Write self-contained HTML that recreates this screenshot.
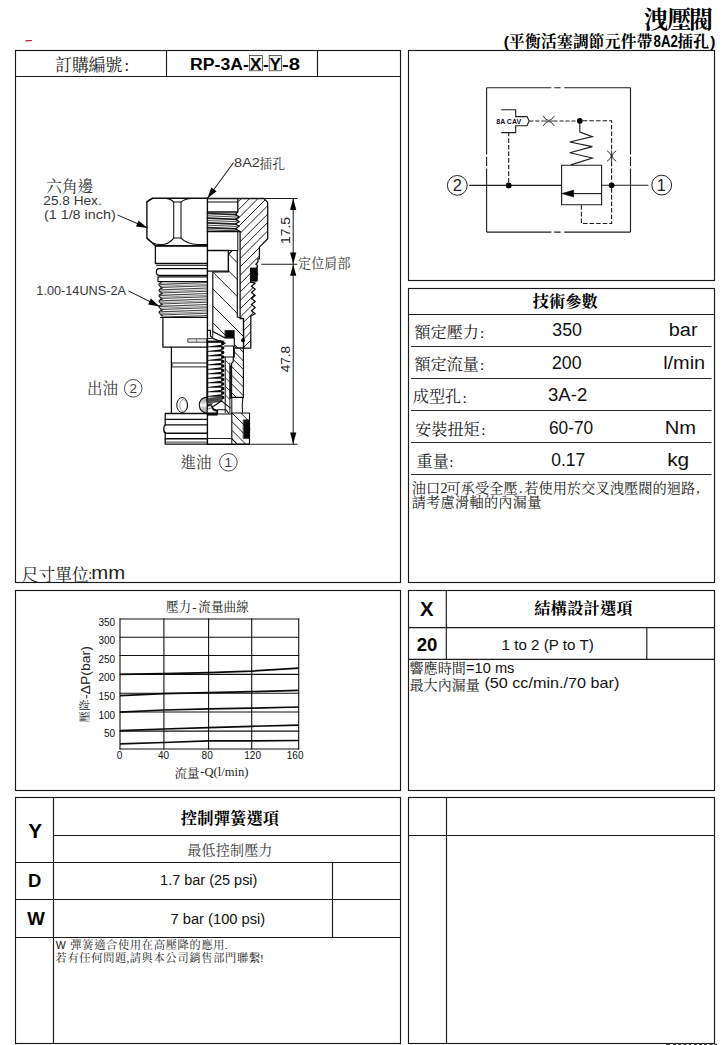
<!DOCTYPE html>
<html lang="zh-Hant"><head><meta charset="utf-8"><title>洩壓閥 RP-3A-X-Y-8</title>
<style>
html,body{margin:0;padding:0;background:#fff;}
body{width:727px;height:1045px;overflow:hidden;position:relative;font-family:"Liberation Sans",sans-serif;}
#pg{position:absolute;left:0;top:0;width:727px;height:1045px;overflow:hidden;background:#fff;}
#pg svg.main{position:absolute;left:0;top:0;}
.c{position:absolute;white-space:pre;color:transparent;line-height:1;overflow:hidden;height:1em;font-family:"Liberation Serif","Noto Serif CJK SC",serif;}
.cj{font-family:"Liberation Serif","Noto Serif CJK SC",serif;}
</style></head>
<body><div id="pg">
<svg class="main" width="727" height="1045" viewBox="0 0 727 1045">
<rect x="15.5" y="50.5" width="385.0" height="532.0" fill="none" stroke="#1a1a1a" stroke-width="1.15"/>
<line x1="15.5" y1="76.5" x2="400.5" y2="76.5" stroke="#1a1a1a" stroke-width="1.15"/>
<line x1="166.5" y1="50.5" x2="166.5" y2="76.5" stroke="#1a1a1a" stroke-width="1.15"/>
<line x1="317.5" y1="50.5" x2="317.5" y2="76.5" stroke="#1a1a1a" stroke-width="1.15"/>
<path d="M25.5 40.3L32.1 39.9V40.7L27.2 41.6L25.6 41.4Z" fill="#dd0008"/>
<rect x="408.5" y="50.5" width="306.0" height="230.0" fill="none" stroke="#1a1a1a" stroke-width="1.15"/>
<rect x="408.5" y="288.5" width="306.0" height="294.0" fill="none" stroke="#1a1a1a" stroke-width="1.15"/>
<line x1="408.5" y1="314.5" x2="714.5" y2="314.5" stroke="#1a1a1a" stroke-width="1.15"/>
<line x1="411" y1="346.5" x2="711.5" y2="346.5" stroke="#2a2a2a" stroke-width="1.05"/>
<line x1="411" y1="378.5" x2="711.5" y2="378.5" stroke="#2a2a2a" stroke-width="1.05"/>
<line x1="411" y1="410.5" x2="711.5" y2="410.5" stroke="#2a2a2a" stroke-width="1.05"/>
<line x1="411" y1="442.5" x2="711.5" y2="442.5" stroke="#2a2a2a" stroke-width="1.05"/>
<line x1="411" y1="474.5" x2="711.5" y2="474.5" stroke="#2a2a2a" stroke-width="1.05"/>
<rect x="15.5" y="590.5" width="385.0" height="200.0" fill="none" stroke="#1a1a1a" stroke-width="1.15"/>
<rect x="408.5" y="590.5" width="306.0" height="200.0" fill="none" stroke="#1a1a1a" stroke-width="1.15"/>
<line x1="446.3" y1="590.5" x2="446.3" y2="659.5" stroke="#1a1a1a" stroke-width="1.15"/>
<line x1="408.5" y1="627.6" x2="714.5" y2="627.6" stroke="#1a1a1a" stroke-width="1.15"/>
<line x1="408.5" y1="659.4" x2="714.5" y2="659.4" stroke="#1a1a1a" stroke-width="1.15"/>
<line x1="646.8" y1="627.6" x2="646.8" y2="659.4" stroke="#1a1a1a" stroke-width="1.15"/>
<rect x="15.5" y="797.5" width="385.0" height="246.0" fill="none" stroke="#1a1a1a" stroke-width="1.15"/>
<line x1="53.5" y1="797.5" x2="53.5" y2="1043.5" stroke="#1a1a1a" stroke-width="1.15"/>
<line x1="53.5" y1="835.5" x2="400.5" y2="835.5" stroke="#1a1a1a" stroke-width="1.15"/>
<line x1="15.5" y1="862.5" x2="400.5" y2="862.5" stroke="#1a1a1a" stroke-width="1.15"/>
<line x1="15.5" y1="899.5" x2="400.5" y2="899.5" stroke="#1a1a1a" stroke-width="1.15"/>
<line x1="15.5" y1="937.5" x2="400.5" y2="937.5" stroke="#1a1a1a" stroke-width="1.15"/>
<line x1="332.5" y1="862.5" x2="332.5" y2="937.5" stroke="#1a1a1a" stroke-width="1.15"/>
<rect x="408.5" y="797.5" width="306.0" height="246.0" fill="none" stroke="#1a1a1a" stroke-width="1.15"/>
<line x1="446.5" y1="797.5" x2="446.5" y2="1043.5" stroke="#1a1a1a" stroke-width="1.15"/>
<line x1="408.5" y1="835.5" x2="714.5" y2="835.5" stroke="#1a1a1a" stroke-width="1.15"/>
<text class="cj" x="643.96 667.35 689.06" y="27.72" font-size="24" font-weight="bold" fill="#000">洩壓閥</text>
<text class="cj" x="509.09 525.04 540.99 556.94 572.89 588.84 604.79 620.74 636.69" y="46.87" font-size="15.7" font-weight="bold" fill="#000">平衡活塞調節元件帶</text>
<text class="cj" x="677.59 693.29" y="46.87" font-size="15.7" font-weight="bold" fill="#000">插孔</text>
<text class="cj" x="54.93 71.73 88.53 105.33" y="70.94" font-size="17.2" fill="#1c1c1c">訂購編號</text>
<rect x="249.6" y="55.4" width="12.8" height="15.4" fill="#f6f6f6" stroke="#2a2a2a" stroke-width="0.7"/>
<rect x="269.2" y="55.4" width="12.3" height="15.4" fill="#f6f6f6" stroke="#2a2a2a" stroke-width="0.7"/>
<text class="cj" x="46.20 61.90 77.60" y="191.93" font-size="15.6" fill="#383838">六角邊</text>
<text class="cj" x="259.52 272.27" y="167.86" font-size="12.8" fill="#383838">插孔</text>
<text class="cj" x="298.11 311.21 324.31 337.41" y="268.18" font-size="13.1" fill="#383838">定位肩部</text>
<text class="cj" x="87.00 102.40" y="394.19" font-size="15.5" fill="#383838">出油</text>
<text class="cj" x="180.50 195.90" y="468.19" font-size="15.5" fill="#383838">進油</text>
<circle cx="133.2" cy="388.3" r="8.8" fill="none" stroke="#383838" stroke-width="0.9"/>
<circle cx="228.4" cy="462.3" r="8.8" fill="none" stroke="#383838" stroke-width="0.9"/>
<text class="cj" x="21.85 38.60 55.35 72.10" y="580.55" font-size="16.7" fill="#1c1c1c">尺寸單位</text>
<text class="cj" x="532.67 548.92 565.17 581.42" y="307.16" font-size="16.2" font-weight="bold" fill="#000">技術參數</text>
<text class="cj" x="414.48 430.58 446.68 462.78" y="337.92" font-size="16.1" fill="#1c1c1c">額定壓力</text>
<text class="cj" x="414.48 430.58 446.68 462.78" y="370.12" font-size="16.1" fill="#1c1c1c">額定流量</text>
<text class="cj" x="412.78 428.88 444.98" y="402.32" font-size="16.1" fill="#1c1c1c">成型孔</text>
<text class="cj" x="415.18 431.28 447.38 463.48" y="434.62" font-size="16.1" fill="#1c1c1c">安裝扭矩</text>
<text class="cj" x="416.58 432.68" y="466.72" font-size="16.1" fill="#1c1c1c">重量</text>
<text class="cj" x="411.66 425.91" y="492.60" font-size="14.2" fill="#1c1c1c">油口</text>
<text class="cj" x="446.62 460.87 475.12 489.37 503.62" y="492.60" font-size="14.2" fill="#1c1c1c">可承受全壓</text>
<text class="cj" x="524.33 538.58 552.83 567.08 581.33 595.58 609.83 624.08 638.33 652.58 666.83 681.08" y="492.60" font-size="14.2" fill="#1c1c1c">若使用於交叉洩壓閥的迴路</text>
<text class="cj" x="411.66 426.11 440.56 455.01 469.46 483.91 498.36 512.81 527.26" y="506.90" font-size="14.2" fill="#1c1c1c">請考慮滑軸的內漏量</text>
<text class="cj" x="534.37 550.77 567.17 583.57 599.97 616.37" y="614.39" font-size="16.3" font-weight="bold" fill="#000">結構設計選項</text>
<text class="cj" x="409.47 423.57 437.67 451.77" y="673.46" font-size="14.1" fill="#1c1c1c">響應時間</text>
<text class="cj" x="409.47 423.57 437.67 451.77 465.87" y="689.76" font-size="14.1" fill="#1c1c1c">最大內漏量</text>
<text class="cj" x="180.87 197.27 213.67 230.07 246.47 262.87" y="823.99" font-size="16.3" font-weight="bold" fill="#000">控制彈簧選項</text>
<text class="cj" x="187.37 201.57 215.77 229.97 244.17 258.37" y="854.76" font-size="14.1" fill="#3a3a3a">最低控制壓力</text>
<text class="cj" x="70.30 82.22 94.14 106.06 117.98 129.90 141.82 153.74 165.66 177.58 189.50 201.42 213.34" y="948.66" font-size="11.2" fill="#1c1c1c">彈簧適合使用在高壓降的應用</text>
<text class="cj" x="55.50 67.42 79.34 91.26 103.18 115.10" y="961.76" font-size="11.2" fill="#1c1c1c">若有任何問題</text>
<text class="cj" x="129.70 141.62 153.54 165.46 177.38 189.30 201.22 213.14 225.06 236.98 248.90" y="961.76" font-size="11.2" fill="#1c1c1c">請與本公司銷售部門聯繫</text>
<path d="M666 1045v-1.2h4v1.2zm7 0v-1.4h3v1.4zm5 0v-1.4h3v1.4zm5.5 0v-1.4h3v1.4zm5.5 0v-1.2h2v1.2zm5 0v-1.4h3v1.4zm5 0v-1.4h3v1.4zm5 0v-1.4h3v1.4zm5.5 0v-1.3h3v1.3zm5 0v-1.3h2.5v1.3z" fill="#444"/>
<line x1="120.0" y1="618.5" x2="120.0" y2="749.5" stroke="#111" stroke-width="1.1"/>
<line x1="163.9" y1="618.5" x2="163.9" y2="749.5" stroke="#111" stroke-width="1.1"/>
<line x1="208.6" y1="618.5" x2="208.6" y2="749.5" stroke="#111" stroke-width="1.1"/>
<line x1="251.7" y1="618.5" x2="251.7" y2="749.5" stroke="#111" stroke-width="1.1"/>
<line x1="298.7" y1="618.5" x2="298.7" y2="749.5" stroke="#111" stroke-width="1.1"/>
<line x1="119.5" y1="619.0" x2="299.2" y2="619.0" stroke="#111" stroke-width="1.1"/>
<line x1="119.5" y1="637.2" x2="299.2" y2="637.2" stroke="#111" stroke-width="1.1"/>
<line x1="119.5" y1="655.5" x2="299.2" y2="655.5" stroke="#111" stroke-width="1.1"/>
<line x1="119.5" y1="674.4" x2="299.2" y2="674.4" stroke="#111" stroke-width="1.1"/>
<line x1="119.5" y1="693.2" x2="299.2" y2="693.2" stroke="#111" stroke-width="1.1"/>
<line x1="119.5" y1="712.0" x2="299.2" y2="712.0" stroke="#111" stroke-width="1.1"/>
<line x1="119.5" y1="731.1" x2="299.2" y2="731.1" stroke="#111" stroke-width="1.1"/>
<line x1="119.5" y1="749.0" x2="299.2" y2="749.0" stroke="#111" stroke-width="1.1"/>
<polyline points="120.0,674.3 163.9,673.6 208.6,672.6 251.7,671.1 298.7,668.2" fill="none" stroke="#0a0a0a" stroke-width="1.7" stroke-linejoin="round"/>
<polyline points="120.0,695.6 163.9,693.6 208.6,692.6 251.7,691.6 298.7,690.4" fill="none" stroke="#0a0a0a" stroke-width="1.7" stroke-linejoin="round"/>
<polyline points="120.0,712.1 163.9,710.0 208.6,708.9 251.7,708.1 298.7,707.0" fill="none" stroke="#0a0a0a" stroke-width="1.7" stroke-linejoin="round"/>
<polyline points="120.0,730.7 163.9,729.0 208.6,727.6 251.7,726.3 298.7,725.1" fill="none" stroke="#0a0a0a" stroke-width="1.7" stroke-linejoin="round"/>
<polyline points="120.0,743.9 163.9,742.5 208.6,740.8 251.7,740.8 298.7,740.5" fill="none" stroke="#0a0a0a" stroke-width="1.7" stroke-linejoin="round"/>
<text class="cj" x="165.93 178.53" y="610.99" font-size="12.6" fill="#222">壓力</text>
<text class="cj" x="198.33 210.93 223.53 236.13" y="610.99" font-size="12.6" fill="#222">流量曲線</text>
<text class="cj" x="174.54 187.04" y="777.75" font-size="12.5" fill="#222">流量</text>
<g transform="translate(0 0)">
<g transform="translate(90.0 721.9) rotate(-90)">
<text class="cj" x="-0.51 10.84" y="-1.27" font-size="11.4" fill="#222">壓降</text>
</g>
</g>
<g><path d="M486.6 87.7H551.3M554.2 87.7H560.6M564.2 87.7H630.5" fill="none" stroke="#1e1e1e" stroke-width="1.12" stroke-linecap="butt"/><path d="M486.6 232.1H551.3M554.2 232.1H560.6M564.2 232.1H630.5" fill="none" stroke="#1e1e1e" stroke-width="1.12" stroke-linecap="butt"/><path d="M486.6 87.7V154.4M486.6 156.8V166M486.6 168.5V232.1" fill="none" stroke="#1e1e1e" stroke-width="1.12" stroke-linecap="butt"/><path d="M630.5 87.7V154.4M630.5 156.8V166M630.5 168.5V232.1" fill="none" stroke="#1e1e1e" stroke-width="1.12" stroke-linecap="butt"/><circle cx="457.3" cy="185.4" r="9.9" fill="#fff" stroke="#1e1e1e" stroke-width="1"/><circle cx="661.7" cy="185.1" r="9.9" fill="#fff" stroke="#1e1e1e" stroke-width="1"/><path d="M469.3 185.4H561.6" fill="none" stroke="#1e1e1e" stroke-width="1.12" stroke-linecap="butt"/><path d="M601.6 185.3H648.4" fill="none" stroke="#1e1e1e" stroke-width="1.12" stroke-linecap="butt"/><path d="M561.6 165.3H601.6V204.8H561.6Z" fill="none" stroke="#1e1e1e" stroke-width="1.12" stroke-linecap="butt"/><path d="M573.5 193.6H601.6" fill="none" stroke="#1e1e1e" stroke-width="1.12" stroke-linecap="butt"/><path d="M561.9 193.6L573.7 190.1V197.1Z" fill="#000" stroke="#000" stroke-width="0.5" stroke-linecap="butt"/><path d="M579.8 120.8V132L592.4 136.6L569.8 142L592.4 146.6L569.8 152.8L592.4 158L570.8 164.9" fill="none" stroke="#1e1e1e" stroke-width="1.12" stroke-linecap="butt"/><circle cx="508.7" cy="185.4" r="2.9" fill="#000"/><circle cx="579.8" cy="120.8" r="2.9" fill="#000"/><circle cx="611.6" cy="185.3" r="2.9" fill="#000"/><path d="M508.7 182.5V133" fill="none" stroke="#1e1e1e" stroke-width="1.12" stroke-linecap="butt" stroke-dasharray="4.6 2"/><path d="M529.4 121H543.5" fill="none" stroke="#1e1e1e" stroke-width="1.12" stroke-linecap="butt" stroke-dasharray="4 2"/><path d="M553.5 121H577" fill="none" stroke="#1e1e1e" stroke-width="1.12" stroke-linecap="butt" stroke-dasharray="4 2"/><path d="M582.7 120.8H611.6V150.5" fill="none" stroke="#1e1e1e" stroke-width="1.12" stroke-linecap="butt" stroke-dasharray="4.6 2"/><path d="M611.6 162V182.4" fill="none" stroke="#1e1e1e" stroke-width="1.12" stroke-linecap="butt" stroke-dasharray="4.6 2"/><path d="M611.6 188.2V223.5H581.4V205.3" fill="none" stroke="#1e1e1e" stroke-width="1.12" stroke-linecap="butt" stroke-dasharray="4.6 2"/><path d="M543.1 115.8Q548.7 125.2 554.4 115.8M543.1 126.1Q548.7 116.7 554.4 126.1" fill="none" stroke="#1e1e1e" stroke-width="0.9" stroke-linecap="butt"/><path d="M543.5 121H554" fill="none" stroke="#1e1e1e" stroke-width="0.9" stroke-linecap="butt" stroke-dasharray="4 2"/><path d="M607 150.7Q615.4 156 607 161.3M616.3 150.7Q607.9 156 616.3 161.3" fill="none" stroke="#1e1e1e" stroke-width="0.9" stroke-linecap="butt"/><path d="M611.6 150.5V162" fill="none" stroke="#1e1e1e" stroke-width="0.9" stroke-linecap="butt"/><path d="M501.2 109.8H515.7V116.6H527L529.2 121L527 125.8H515.7V132.6H501.2" fill="none" stroke="#1e1e1e" stroke-width="1.12" stroke-linecap="butt"/></g>
<g><path d="M152.4 198.3H207.4" fill="none" stroke="#0c0c0c" stroke-width="1.49" stroke-linejoin="round" stroke-linecap="round"/><path d="M152.4 198.3L146.9 201.9V238.1L155.1 245.6H207.4" fill="none" stroke="#0c0c0c" stroke-width="1.38" stroke-linejoin="round" stroke-linecap="round"/><path d="M173.7 202.1V238.1M181 202.1V238.1" fill="none" stroke="#0c0c0c" stroke-width="1.03" stroke-linejoin="round" stroke-linecap="round"/><path d="M146.9 202.2Q149.5 198.6 153.5 198.5H166.5Q171 198.8 173.7 202.1H181Q184.5 198.9 192 198.6" fill="none" stroke="#0c0c0c" stroke-width="1.03" stroke-linejoin="round" stroke-linecap="round"/><path d="M146.9 238.1Q152 244.6 160.5 244.6Q169 244.6 173.7 238.1H181Q187 244.2 198 244.6H207.4" fill="none" stroke="#0c0c0c" stroke-width="1.03" stroke-linejoin="round" stroke-linecap="round"/><path d="M155.4 246.1V263.5H207.4" fill="none" stroke="#0c0c0c" stroke-width="1.26" stroke-linejoin="round" stroke-linecap="round"/><path d="M155.4 246.1H207.4" fill="none" stroke="#0c0c0c" stroke-width="1.15" stroke-linejoin="round" stroke-linecap="round"/><path d="M156.5 265.4H207.4" fill="none" stroke="#0c0c0c" stroke-width="0.92" stroke-linejoin="round" stroke-linecap="round"/><path d="M207.4 268.6H159Q156.3 268.8 156.3 272T159 275.4H207.4" fill="none" stroke="#0c0c0c" stroke-width="1.15" stroke-linejoin="round" stroke-linecap="round"/><path d="M207.4 276.9H158V281.6H207.4" fill="none" stroke="#0c0c0c" stroke-width="1.15" stroke-linejoin="round" stroke-linecap="round"/><path d="M161.4 282.4Q157.6 284.1 159.6 285.8L162.4 287.9Q157.6 289.6 159.6 291.3L162.4 293.4Q157.6 295.1 159.6 296.8L162.4 298.9Q157.6 300.6 159.6 302.4L162.4 304.4Q157.6 306.1 159.6 307.9L162.4 310.0Q157.6 311.6 159.6 313.4L162.4 315.5" fill="none" stroke="#0c0c0c" stroke-width="1.15" stroke-linejoin="round" stroke-linecap="round"/><path d="M160.6 284.4L207.4 282.5" fill="none" stroke="#444" stroke-width="1.15" stroke-linejoin="round" stroke-linecap="round"/><path d="M160.6 286.2L207.4 284.3" fill="none" stroke="#444" stroke-width="0.57" stroke-linejoin="round" stroke-linecap="round"/><path d="M160.6 287.6L207.4 285.7" fill="none" stroke="#444" stroke-width="1.03" stroke-linejoin="round" stroke-linecap="round"/><path d="M160.6 289.9L207.4 288.0" fill="none" stroke="#444" stroke-width="1.15" stroke-linejoin="round" stroke-linecap="round"/><path d="M160.6 291.7L207.4 289.8" fill="none" stroke="#444" stroke-width="0.57" stroke-linejoin="round" stroke-linecap="round"/><path d="M160.6 293.1L207.4 291.2" fill="none" stroke="#444" stroke-width="1.03" stroke-linejoin="round" stroke-linecap="round"/><path d="M160.6 295.4L207.4 293.5" fill="none" stroke="#444" stroke-width="1.15" stroke-linejoin="round" stroke-linecap="round"/><path d="M160.6 297.2L207.4 295.3" fill="none" stroke="#444" stroke-width="0.57" stroke-linejoin="round" stroke-linecap="round"/><path d="M160.6 298.6L207.4 296.7" fill="none" stroke="#444" stroke-width="1.03" stroke-linejoin="round" stroke-linecap="round"/><path d="M160.6 300.9L207.4 299.0" fill="none" stroke="#444" stroke-width="1.15" stroke-linejoin="round" stroke-linecap="round"/><path d="M160.6 302.7L207.4 300.8" fill="none" stroke="#444" stroke-width="0.57" stroke-linejoin="round" stroke-linecap="round"/><path d="M160.6 304.1L207.4 302.2" fill="none" stroke="#444" stroke-width="1.03" stroke-linejoin="round" stroke-linecap="round"/><path d="M160.6 306.4L207.4 304.5" fill="none" stroke="#444" stroke-width="1.15" stroke-linejoin="round" stroke-linecap="round"/><path d="M160.6 308.2L207.4 306.3" fill="none" stroke="#444" stroke-width="0.57" stroke-linejoin="round" stroke-linecap="round"/><path d="M160.6 309.6L207.4 307.7" fill="none" stroke="#444" stroke-width="1.03" stroke-linejoin="round" stroke-linecap="round"/><path d="M160.6 311.9L207.4 310.0" fill="none" stroke="#444" stroke-width="1.15" stroke-linejoin="round" stroke-linecap="round"/><path d="M160.6 313.7L207.4 311.8" fill="none" stroke="#444" stroke-width="0.57" stroke-linejoin="round" stroke-linecap="round"/><path d="M160.6 315.1L207.4 313.2" fill="none" stroke="#444" stroke-width="1.03" stroke-linejoin="round" stroke-linecap="round"/><path d="M160.6 317.4L207.4 315.5" fill="none" stroke="#444" stroke-width="1.15" stroke-linejoin="round" stroke-linecap="round"/><path d="M161.5 317.4H207.4" fill="none" stroke="#0c0c0c" stroke-width="1.38" stroke-linejoin="round" stroke-linecap="round"/><path d="M162.9 317.4V347.2H207.4" fill="none" stroke="#0c0c0c" stroke-width="1.26" stroke-linejoin="round" stroke-linecap="round"/><path d="M171.4 347.2V413.4" fill="none" stroke="#0c0c0c" stroke-width="1.26" stroke-linejoin="round" stroke-linecap="round"/><path d="M171.4 363.0H207.4M171.4 366.9H207.4" fill="none" stroke="#0c0c0c" stroke-width="0.92" stroke-linejoin="round" stroke-linecap="round"/><path d="M171.4 363.0L172.4 365L171.4 366.9" fill="none" stroke="#0c0c0c" stroke-width="0.80" stroke-linejoin="round" stroke-linecap="round"/><path d="M188.2 338.8H206.8V342.2H188.2Z" fill="#e9e9e9" stroke="#333" stroke-width="0.92" stroke-linejoin="round" stroke-linecap="round"/><path d="M196.5 339.2V342" fill="none" stroke="#555" stroke-width="0.69" stroke-linejoin="round" stroke-linecap="round"/><ellipse cx="182.2" cy="405" rx="5.4" ry="7.5" fill="none" stroke="#0c0c0c" stroke-width="1"/><ellipse cx="183.4" cy="405.4" rx="3.6" ry="5.8" fill="none" stroke="#666" stroke-width="0.6"/><linearGradient id="hg" x1="0" y1="0" x2="0" y2="1"><stop offset="0" stop-color="#8a8a8a"/><stop offset="0.38" stop-color="#d8d8d8"/><stop offset="0.5" stop-color="#fff"/><stop offset="0.62" stop-color="#d0d0d0"/><stop offset="1" stop-color="#9a9a9a"/></linearGradient><path d="M207.4 397.0Q199.4 397.6 199.3 405.1Q199.5 412.7 207.4 413.3Z" fill="url(#hg)" stroke="#0c0c0c" stroke-width="1.03" stroke-linejoin="round" stroke-linecap="round"/><path d="M165.2 413.5H207.4M165.2 413.5V424.9M165.2 433.2V444.2H207.4" fill="none" stroke="#0c0c0c" stroke-width="1.26" stroke-linejoin="round" stroke-linecap="round"/><path d="M165.2 419.4H207.4" fill="none" stroke="#0c0c0c" stroke-width="1.38" stroke-linejoin="round" stroke-linecap="round"/><path d="M207.4 424.9H166Q163.8 425.2 163.8 429T166 433.2H207.4" fill="none" stroke="#0c0c0c" stroke-width="1.38" stroke-linejoin="round" stroke-linecap="round"/><path d="M165.2 438.7H207.4" fill="none" stroke="#0c0c0c" stroke-width="1.38" stroke-linejoin="round" stroke-linecap="round"/><path d="M165.2 442.1H207.4" fill="none" stroke="#0c0c0c" stroke-width="0.80" stroke-linejoin="round" stroke-linecap="round"/><path d="M207.4 198.3V444.2" fill="none" stroke="#0c0c0c" stroke-width="1.38" stroke-linejoin="round" stroke-linecap="round"/><clipPath id="hc1"><path d="M237.8 198.5L264.0 198.5L267.7 202.4L267.7 238.8L259.4 247.1L259.4 258.8L257.9 258.8L257.9 262.0L255.9 264.2L257.3 265.2L257.3 268.3L250.6 268.3L250.6 282.2L255.2 283.2L251.4 286.2L255.2 289.3L251.4 292.4L255.2 295.4L251.4 298.5L255.2 301.5L251.4 304.6L255.2 307.6L251.4 310.7L255.2 313.7L250.8 316.0L250.8 348.1L243.6 348.1L243.6 318.6L240.1 318.6L240.1 231.6L239.2 231.0L235.2 228.7L239.2 226.3L235.2 224.0L239.2 221.6L235.2 219.3L239.2 216.9L235.2 214.6L237.8 212.0L237.8 198.5Z"/></clipPath><path d="M74.9 348.1L224.5 198.5M83.3 348.1L232.9 198.5M91.7 348.1L241.3 198.5M100.1 348.1L249.7 198.5M108.5 348.1L258.1 198.5M116.9 348.1L266.5 198.5M125.3 348.1L274.9 198.5M133.7 348.1L283.3 198.5M142.1 348.1L291.7 198.5M150.5 348.1L300.1 198.5M158.9 348.1L308.5 198.5M167.3 348.1L316.9 198.5M175.7 348.1L325.3 198.5M184.1 348.1L333.7 198.5M192.5 348.1L342.1 198.5M200.9 348.1L350.5 198.5M209.3 348.1L358.9 198.5M217.7 348.1L367.3 198.5M226.1 348.1L375.7 198.5M234.5 348.1L384.1 198.5M242.9 348.1L392.5 198.5M251.3 348.1L400.9 198.5M259.7 348.1L409.3 198.5M268.1 348.1L417.7 198.5" clip-path="url(#hc1)" stroke="#161616" stroke-width="0.95" fill="none"/><path d="M237.8 198.5L264.0 198.5L267.7 202.4L267.7 238.8L259.4 247.1L259.4 258.8L257.9 258.8L257.9 262.0L255.9 264.2L257.3 265.2L257.3 268.3L250.6 268.3L250.6 282.2L255.2 283.2L251.4 286.2L255.2 289.3L251.4 292.4L255.2 295.4L251.4 298.5L255.2 301.5L251.4 304.6L255.2 307.6L251.4 310.7L255.2 313.7L250.8 316.0L250.8 348.1L243.6 348.1L243.6 318.6L240.1 318.6L240.1 231.6L239.2 231.0L235.2 228.7L239.2 226.3L235.2 224.0L239.2 221.6L235.2 219.3L239.2 216.9L235.2 214.6L237.8 212.0L237.8 198.5Z" fill="none" stroke="#0c0c0c" stroke-width="1.26" stroke-linejoin="round" stroke-linecap="round"/><path d="M207.4 198.5H237.8" fill="none" stroke="#0c0c0c" stroke-width="1.49" stroke-linejoin="round" stroke-linecap="round"/><path d="M207.4 212H237.8" fill="none" stroke="#0c0c0c" stroke-width="1.26" stroke-linejoin="round" stroke-linecap="round"/><path d="M207.4 202H237.8" fill="none" stroke="#0c0c0c" stroke-width="1.03" stroke-linejoin="round" stroke-linecap="round"/><path d="M207.4 213.5L236.4 214.7" fill="none" stroke="#1e1e1e" stroke-width="1.72" stroke-linejoin="round" stroke-linecap="round"/><path d="M207.4 215.8L236.4 217.0" fill="none" stroke="#1e1e1e" stroke-width="0.80" stroke-linejoin="round" stroke-linecap="round"/><path d="M207.4 218.2L236.4 219.4" fill="none" stroke="#1e1e1e" stroke-width="1.72" stroke-linejoin="round" stroke-linecap="round"/><path d="M207.4 220.5L236.4 221.7" fill="none" stroke="#1e1e1e" stroke-width="0.80" stroke-linejoin="round" stroke-linecap="round"/><path d="M207.4 222.9L236.4 224.1" fill="none" stroke="#1e1e1e" stroke-width="1.72" stroke-linejoin="round" stroke-linecap="round"/><path d="M207.4 225.2L236.4 226.4" fill="none" stroke="#1e1e1e" stroke-width="0.80" stroke-linejoin="round" stroke-linecap="round"/><path d="M207.4 227.6L236.4 228.8" fill="none" stroke="#1e1e1e" stroke-width="1.72" stroke-linejoin="round" stroke-linecap="round"/><path d="M207.4 229.7L236.4 230.9" fill="none" stroke="#1e1e1e" stroke-width="0.80" stroke-linejoin="round" stroke-linecap="round"/><path d="M207.4 231.5H240.1" fill="none" stroke="#0c0c0c" stroke-width="1.26" stroke-linejoin="round" stroke-linecap="round"/><path d="M237.8 231.5V250.5" fill="none" stroke="#0c0c0c" stroke-width="1.03" stroke-linejoin="round" stroke-linecap="round"/><path d="M207.4 250.5H228.4V271.2H207.4" fill="none" stroke="#0c0c0c" stroke-width="1.26" stroke-linejoin="round" stroke-linecap="round"/><path d="M228.4 250.5H237.4" fill="none" stroke="#0c0c0c" stroke-width="1.03" stroke-linejoin="round" stroke-linecap="round"/><clipPath id="hc2"><path d="M212.8 272.0L228.4 272.0L228.4 254.4L232.2 250.5L237.3 250.5L237.3 317.0L243.4 318.6L243.4 348.0L236.2 348.0L234.3 346.4L234.3 338.0L225.2 338.0L212.8 331.6Z"/></clipPath><path d="M89.9 250.5L187.4 348.0M106.8 250.5L204.3 348.0M123.7 250.5L221.2 348.0M140.6 250.5L238.1 348.0M157.5 250.5L255.0 348.0M174.4 250.5L271.9 348.0M191.3 250.5L288.8 348.0M208.2 250.5L305.7 348.0M225.1 250.5L322.6 348.0M242.0 250.5L339.5 348.0M258.9 250.5L356.4 348.0" clip-path="url(#hc2)" stroke="#161616" stroke-width="0.95" fill="none"/><path d="M212.8 272.0L228.4 272.0L228.4 254.4L232.2 250.5L237.3 250.5L237.3 317.0L243.4 318.6L243.4 348.0L236.2 348.0L234.3 346.4L234.3 338.0L225.2 338.0L212.8 331.6Z" fill="none" stroke="#0c0c0c" stroke-width="1.15" stroke-linejoin="round" stroke-linecap="round"/><path d="M251.3 268.3H256.6Q257.7 268.5 257.6 270V272.2Q258.4 274 257.6 275.8V280.6Q257.5 281.6 256.2 281.6H251.3Q250.5 281.4 250.6 280.6V269.4Q250.6 268.4 251.3 268.3Z" fill="#050505" stroke="#000" stroke-width="0.46" stroke-linejoin="round" stroke-linecap="round"/><path d="M225.2 330.4H234.3V337.8H225.2Z" fill="#050505" stroke="#000" stroke-width="0.57" stroke-linejoin="round" stroke-linecap="round"/><circle cx="243" cy="340.3" r="2" fill="#050505"/><path d="M207.4 330.4H210.4V336L213.4 338.6L225.2 343.4" fill="none" stroke="#0c0c0c" stroke-width="1.15" stroke-linejoin="round" stroke-linecap="round"/><path d="M212.8 331.6V336.6" fill="none" stroke="#0c0c0c" stroke-width="1.03" stroke-linejoin="round" stroke-linecap="round"/><path d="M207.4 338.4L212.8 338.6M210 341.4L224 341.2" fill="none" stroke="#222" stroke-width="0.92" stroke-linejoin="round" stroke-linecap="round"/><path d="M207.4 341.6H223" fill="none" stroke="#0c0c0c" stroke-width="1.49" stroke-linejoin="round" stroke-linecap="round"/><path d="M224.4 346H233.5V357H224.4" fill="none" stroke="#0c0c0c" stroke-width="1.03" stroke-linejoin="round" stroke-linecap="round"/><path d="M225.2 357V412.6" fill="none" stroke="#0c0c0c" stroke-width="1.03" stroke-linejoin="round" stroke-linecap="round"/><path d="M229.9 363V412.6" fill="none" stroke="#0c0c0c" stroke-width="0.92" stroke-linejoin="round" stroke-linecap="round"/><path d="M230.3 366V398" fill="none" stroke="#1a1a1a" stroke-width="1.72" stroke-linejoin="round" stroke-linecap="round" stroke-dasharray="1.3 1.5"/><clipPath id="hc3"><path d="M225.2 357.0L229.9 363.0L229.9 404.0L225.2 398.0Z"/></clipPath><path d="M161.2 357.0L208.2 404.0M169.9 357.0L216.9 404.0M178.6 357.0L225.6 404.0M187.3 357.0L234.3 404.0M196.0 357.0L243.0 404.0M204.7 357.0L251.7 404.0M213.4 357.0L260.4 404.0M222.1 357.0L269.1 404.0M230.8 357.0L277.8 404.0" clip-path="url(#hc3)" stroke="#161616" stroke-width="0.8" fill="none"/><clipPath id="hc4"><path d="M234.3 348.0L243.4 348.0L243.4 397.4L231.6 397.4L231.6 363.4L233.2 361.6L233.2 357.0L234.3 357.0Z"/></clipPath><path d="M169.6 348.0L219.0 397.4M178.3 348.0L227.7 397.4M187.0 348.0L236.4 397.4M195.7 348.0L245.1 397.4M204.4 348.0L253.8 397.4M213.1 348.0L262.5 397.4M221.8 348.0L271.2 397.4M230.5 348.0L279.9 397.4M239.2 348.0L288.6 397.4M247.9 348.0L297.3 397.4" clip-path="url(#hc4)" stroke="#161616" stroke-width="0.95" fill="none"/><path d="M234.3 348.0L243.4 348.0L243.4 397.4L231.6 397.4L231.6 363.4L233.2 361.6L233.2 357.0L234.3 357.0Z" fill="none" stroke="#0c0c0c" stroke-width="1.15" stroke-linejoin="round" stroke-linecap="round"/><path d="M231.8 397.4V413M242.9 397.4Q241.8 405 242.5 413" fill="none" stroke="#0c0c0c" stroke-width="1.03" stroke-linejoin="round" stroke-linecap="round"/><clipPath id="hc5"><path d="M231.8 413.0L249.5 413.0L249.5 444.2L237.2 444.2L231.8 438.6Z"/></clipPath><path d="M188.5 413.0L219.7 444.2M197.2 413.0L228.4 444.2M205.9 413.0L237.1 444.2M214.6 413.0L245.8 444.2M223.3 413.0L254.5 444.2M232.0 413.0L263.2 444.2M240.7 413.0L271.9 444.2M249.4 413.0L280.6 444.2M258.1 413.0L289.3 444.2" clip-path="url(#hc5)" stroke="#161616" stroke-width="0.95" fill="none"/><path d="M231.8 413.0L249.5 413.0L249.5 444.2L237.2 444.2L231.8 438.6Z" fill="none" stroke="#0c0c0c" stroke-width="1.15" stroke-linejoin="round" stroke-linecap="round"/><path d="M207.4 444.2H250" fill="none" stroke="#0c0c0c" stroke-width="1.49" stroke-linejoin="round" stroke-linecap="round"/><path d="M207.4 414H231.8" fill="none" stroke="#0c0c0c" stroke-width="1.15" stroke-linejoin="round" stroke-linecap="round"/><path d="M231.8 438.6V444.2" fill="none" stroke="#0c0c0c" stroke-width="1.03" stroke-linejoin="round" stroke-linecap="round"/><path d="M243.4 419.8H248.4Q249.2 420 249.1 421V426.2Q250.9 429 249.1 432V437.6Q249.1 438.6 248.2 438.6H243.4Z" fill="#050505" stroke="#000" stroke-width="0.46" stroke-linejoin="round" stroke-linecap="round"/><path d="M207.4 438.5H231.8" fill="none" stroke="#222" stroke-width="1.03" stroke-linejoin="round" stroke-linecap="round"/><path d="M207.8 341.95L221.4 340.35V342.65L207.8 342.65Z" fill="#0a0a0a"/><ellipse cx="222.8" cy="343.60" rx="1.55" ry="1.75" fill="#050505"/><path d="M207.8 346.45L221.4 344.85V347.15L207.8 347.15Z" fill="#0a0a0a"/><ellipse cx="222.8" cy="348.10" rx="1.55" ry="1.75" fill="#050505"/><path d="M207.8 350.95L221.4 349.35V351.65L207.8 351.65Z" fill="#0a0a0a"/><ellipse cx="222.8" cy="352.60" rx="1.55" ry="1.75" fill="#050505"/><path d="M207.8 355.45L221.4 353.85V356.15L207.8 356.15Z" fill="#0a0a0a"/><ellipse cx="222.8" cy="357.10" rx="1.55" ry="1.75" fill="#050505"/><path d="M207.8 359.95L221.4 358.35V360.65L207.8 360.65Z" fill="#0a0a0a"/><ellipse cx="222.8" cy="361.60" rx="1.55" ry="1.75" fill="#050505"/><path d="M207.8 364.45L221.4 362.85V365.15L207.8 365.15Z" fill="#0a0a0a"/><ellipse cx="222.8" cy="366.10" rx="1.55" ry="1.75" fill="#050505"/><path d="M207.8 368.95L221.4 367.35V369.65L207.8 369.65Z" fill="#0a0a0a"/><ellipse cx="222.8" cy="370.60" rx="1.55" ry="1.75" fill="#050505"/><path d="M207.8 373.45L221.4 371.85V374.15L207.8 374.15Z" fill="#0a0a0a"/><ellipse cx="222.8" cy="375.10" rx="1.55" ry="1.75" fill="#050505"/><path d="M207.8 377.95L221.4 376.35V378.65L207.8 378.65Z" fill="#0a0a0a"/><ellipse cx="222.8" cy="379.60" rx="1.55" ry="1.75" fill="#050505"/><path d="M207.8 382.45L221.4 380.85V383.15L207.8 383.15Z" fill="#0a0a0a"/><ellipse cx="222.8" cy="384.10" rx="1.55" ry="1.75" fill="#050505"/><path d="M207.8 386.95L221.4 385.35V387.65L207.8 387.65Z" fill="#0a0a0a"/><ellipse cx="222.8" cy="388.60" rx="1.55" ry="1.75" fill="#050505"/><path d="M207.8 391.45L221.4 389.85V392.15L207.8 392.15Z" fill="#0a0a0a"/><ellipse cx="222.8" cy="393.10" rx="1.55" ry="1.75" fill="#050505"/><path d="M207.8 395.95L221.4 394.35V396.65L207.8 396.65Z" fill="#0a0a0a"/><ellipse cx="222.8" cy="397.60" rx="1.55" ry="1.75" fill="#050505"/><path d="M207.8 400.45L221.4 398.85V401.15L207.8 401.15Z" fill="#0a0a0a"/><path d="M207.3 340.5V401.4" fill="none" stroke="#050505" stroke-width="1.72" stroke-linejoin="round" stroke-linecap="round"/><path d="M221.8 342V400" fill="none" stroke="#111" stroke-width="1.03" stroke-linejoin="round" stroke-linecap="round"/><path d="M207.6 398.2L221.8 396.6L222 401.4L207.6 403.2Z" fill="#4a4a4a" stroke="#333" stroke-width="0.46" stroke-linejoin="round" stroke-linecap="round"/><path d="M213.6 406.2L221.4 400.9L230.2 407.9" fill="none" stroke="#0c0c0c" stroke-width="1.15" stroke-linejoin="round" stroke-linecap="round"/><path d="M207.6 404.2L212.4 403.4L211.2 405.6L207.6 406.4Z" fill="#222" stroke="#111" stroke-width="0.46" stroke-linejoin="round" stroke-linecap="round"/><path d="M211.8 406.2L213.4 409.4L217.2 410.6V413" fill="none" stroke="#0c0c0c" stroke-width="1.84" stroke-linejoin="round" stroke-linecap="round"/><path d="M217.4 409.8H226L228.8 413.4" fill="none" stroke="#0c0c0c" stroke-width="1.03" stroke-linejoin="round" stroke-linecap="round"/><path d="M207.6 409.4L211.6 407.6L212.8 410.4L216.4 411.4V413H207.6Z" fill="#fff" stroke="#111" stroke-width="0.57" stroke-linejoin="round" stroke-linecap="round"/><path d="M207.4 412.9H217.3V415.3H207.4Z" fill="#0a0a0a" stroke="#000" stroke-width="0.46" stroke-linejoin="round" stroke-linecap="round"/><path d="M207.4 198.4H297" fill="none" stroke="#1c1c1c" stroke-width="1.03" stroke-linejoin="round" stroke-linecap="round"/><path d="M261.8 264.2H297" fill="none" stroke="#1c1c1c" stroke-width="1.03" stroke-linejoin="round" stroke-linecap="round"/><path d="M251.6 444.2H297" fill="none" stroke="#1c1c1c" stroke-width="1.03" stroke-linejoin="round" stroke-linecap="round"/><path d="M293.2 198.4V444.2" fill="none" stroke="#1c1c1c" stroke-width="1.03" stroke-linejoin="round" stroke-linecap="round"/><path d="M293.2 198.6L296.3 210.0L290.1 210.0Z" fill="#050505"/><path d="M293.2 264.0L290.1 252.6L296.3 252.6Z" fill="#050505"/><path d="M293.2 264.4L296.3 275.8L290.1 275.8Z" fill="#050505"/><path d="M293.2 444.0L290.1 432.6L296.3 432.6Z" fill="#050505"/><path d="M233.4 162.8L207.6 198.0" fill="none" stroke="#1c1c1c" stroke-width="1.03" stroke-linejoin="round" stroke-linecap="round"/><path d="M207.5 198.2L211.3 187.4L216.7 191.3Z" fill="#050505"/><path d="M117.8 215.1L147.2 227.8" fill="none" stroke="#1c1c1c" stroke-width="1.03" stroke-linejoin="round" stroke-linecap="round"/><path d="M147.4 227.9L136.0 226.6L138.6 220.5Z" fill="#050505"/><path d="M128.9 291.1L159.2 306.3" fill="none" stroke="#1c1c1c" stroke-width="1.03" stroke-linejoin="round" stroke-linecap="round"/><path d="M159.4 306.4L148.1 304.4L151.0 298.5Z" fill="#050505"/></g>
<g font-family="'Liberation Sans',sans-serif" style="white-space:pre">
<text x="503.63" y="46.60" font-size="15.50" fill="#000" font-weight="bold">(</text>
<text x="653.58" y="47.00" font-size="16.50" fill="#000" textLength="24.35" lengthAdjust="spacingAndGlyphs" font-weight="bold">8A2</text>
<text x="710.18" y="46.60" font-size="15.50" fill="#000" font-weight="bold">)</text>
<text x="124.49" y="70.80" font-size="16.50" fill="#111" font-family="'Liberation Serif',serif">:</text>
<text x="190.12" y="69.80" font-size="17.20" fill="#000" textLength="58.68" lengthAdjust="spacingAndGlyphs" font-weight="bold">RP-3A-</text>
<text x="249.95" y="69.80" font-size="17.20" fill="#000" font-weight="bold">X</text>
<text x="262.93" y="69.80" font-size="17.20" fill="#000" font-weight="bold">-</text>
<text x="269.41" y="69.80" font-size="17.20" fill="#000" font-weight="bold">Y</text>
<text x="281.91" y="69.80" font-size="17.20" fill="#000" textLength="18.01" lengthAdjust="spacingAndGlyphs" font-weight="bold">-8</text>
<text x="43.31" y="205.20" font-size="13.40" fill="#383838" textLength="58.43" lengthAdjust="spacingAndGlyphs">25.8 Hex.</text>
<text x="43.91" y="219.30" font-size="13.40" fill="#383838" textLength="71.78" lengthAdjust="spacingAndGlyphs">(1 1/8 inch)</text>
<text x="36.33" y="294.80" font-size="13.20" fill="#383838" textLength="89.69" lengthAdjust="spacingAndGlyphs">1.00-14UNS-2A</text>
<text x="234.07" y="167.30" font-size="13.40" fill="#383838" textLength="25.86" lengthAdjust="spacingAndGlyphs">8A2</text>
<text x="129.47" y="393.20" font-size="13.40" fill="#383838">2</text>
<text x="224.49" y="467.20" font-size="13.40" fill="#383838">1</text>
<text x="288.94" y="243.00" font-size="13.40" fill="#222" textLength="27.15" lengthAdjust="spacingAndGlyphs" transform="rotate(-90 290.00 243.00)">17.5</text>
<text x="289.69" y="372.00" font-size="13.40" fill="#222" textLength="26.40" lengthAdjust="spacingAndGlyphs" transform="rotate(-90 290.00 372.00)">47.8</text>
<text x="88.19" y="579.30" font-size="14.00" fill="#111" font-family="'Liberation Serif',serif">:</text>
<text x="91.35" y="578.90" font-size="18.00" fill="#222" textLength="33.89" lengthAdjust="spacingAndGlyphs">mm</text>
<text x="480.07" y="338.20" font-size="15.50" fill="#111" font-family="'Liberation Serif',serif">:</text>
<text x="480.07" y="370.40" font-size="15.50" fill="#111" font-family="'Liberation Serif',serif">:</text>
<text x="462.47" y="402.60" font-size="15.50" fill="#111" font-family="'Liberation Serif',serif">:</text>
<text x="481.27" y="434.90" font-size="15.50" fill="#111" font-family="'Liberation Serif',serif">:</text>
<text x="449.17" y="467.00" font-size="15.50" fill="#111" font-family="'Liberation Serif',serif">:</text>
<text x="552.22" y="336.00" font-size="18.00" fill="#111" textLength="29.78" lengthAdjust="spacingAndGlyphs">350</text>
<text x="552.01" y="368.70" font-size="18.00" fill="#111" textLength="29.58" lengthAdjust="spacingAndGlyphs">200</text>
<text x="547.99" y="400.80" font-size="18.00" fill="#111" textLength="39.24" lengthAdjust="spacingAndGlyphs">3A-2</text>
<text x="548.92" y="433.70" font-size="18.00" fill="#111" textLength="44.25" lengthAdjust="spacingAndGlyphs">60-70</text>
<text x="551.32" y="466.10" font-size="18.00" fill="#111" textLength="33.96" lengthAdjust="spacingAndGlyphs">0.17</text>
<text x="668.71" y="336.00" font-size="18.00" fill="#111" textLength="28.82" lengthAdjust="spacingAndGlyphs">bar</text>
<text x="663.16" y="368.70" font-size="18.00" fill="#111" textLength="42.03" lengthAdjust="spacingAndGlyphs">l/min</text>
<text x="664.65" y="433.70" font-size="18.00" fill="#111" textLength="31.28" lengthAdjust="spacingAndGlyphs">Nm</text>
<text x="667.19" y="466.10" font-size="18.00" fill="#111" textLength="22.05" lengthAdjust="spacingAndGlyphs">kg</text>
<text x="440.55" y="492.60" font-size="14.00" fill="#111" font-family="'Liberation Serif',serif">2</text>
<text x="518.95" y="492.60" font-size="14.00" fill="#111" font-family="'Liberation Serif',serif">.</text>
<text x="696.30" y="492.60" font-size="14.00" fill="#111" font-family="'Liberation Serif',serif">,</text>
<text x="420.12" y="616.00" font-size="20.30" fill="#000" font-weight="bold">X</text>
<text x="416.65" y="650.60" font-size="17.70" fill="#000" textLength="20.71" lengthAdjust="spacingAndGlyphs" font-weight="bold">20</text>
<text x="501.55" y="649.90" font-size="15.50" fill="#111" textLength="92.18" lengthAdjust="spacingAndGlyphs">1 to 2 (P to T)</text>
<text x="466.09" y="672.90" font-size="14.20" fill="#111" textLength="48.34" lengthAdjust="spacingAndGlyphs">=10 ms</text>
<text x="484.40" y="688.20" font-size="14.80" fill="#111" textLength="134.91" lengthAdjust="spacingAndGlyphs">(50 cc/min./70 bar)</text>
<text x="28.24" y="838.30" font-size="20.80" fill="#000" font-weight="bold">Y</text>
<text x="28.07" y="887.10" font-size="18.40" fill="#000" font-weight="bold">D</text>
<text x="27.28" y="924.90" font-size="18.60" fill="#000" font-weight="bold">W</text>
<text x="160.10" y="885.10" font-size="15.50" fill="#111" textLength="97.30" lengthAdjust="spacingAndGlyphs">1.7 bar (25 psi)</text>
<text x="170.55" y="923.50" font-size="15.50" fill="#111" textLength="94.66" lengthAdjust="spacingAndGlyphs">7 bar (100 psi)</text>
<text x="55.75" y="948.70" font-size="10.60" fill="#111">W</text>
<text x="224.83" y="948.70" font-size="11.00" fill="#111" font-family="'Liberation Serif',serif">.</text>
<text x="126.40" y="961.60" font-size="11.00" fill="#111" font-family="'Liberation Serif',serif">,</text>
<text x="260.04" y="961.60" font-size="11.00" fill="#111" font-family="'Liberation Serif',serif">!</text>
<text x="192.13" y="610.60" font-size="12.60" fill="#222" font-family="'Liberation Serif',serif">-</text>
<text x="98.41" y="625.60" font-size="10.00" fill="#111" textLength="16.68" lengthAdjust="spacingAndGlyphs">350</text>
<text x="98.41" y="644.20" font-size="10.00" fill="#111" textLength="16.68" lengthAdjust="spacingAndGlyphs">300</text>
<text x="98.41" y="662.80" font-size="10.00" fill="#111" textLength="16.68" lengthAdjust="spacingAndGlyphs">250</text>
<text x="98.41" y="681.40" font-size="10.00" fill="#111" textLength="16.68" lengthAdjust="spacingAndGlyphs">200</text>
<text x="98.41" y="700.00" font-size="10.00" fill="#111" textLength="16.68" lengthAdjust="spacingAndGlyphs">150</text>
<text x="98.41" y="718.60" font-size="10.00" fill="#111" textLength="16.68" lengthAdjust="spacingAndGlyphs">100</text>
<text x="103.97" y="737.20" font-size="10.00" fill="#111" textLength="11.12" lengthAdjust="spacingAndGlyphs">50</text>
<text x="116.82" y="759.40" font-size="10.00" fill="#111">0</text>
<text x="157.92" y="759.40" font-size="10.00" fill="#111" textLength="11.12" lengthAdjust="spacingAndGlyphs">40</text>
<text x="201.62" y="759.40" font-size="10.00" fill="#111" textLength="11.12" lengthAdjust="spacingAndGlyphs">80</text>
<text x="244.27" y="759.40" font-size="10.00" fill="#111" textLength="16.68" lengthAdjust="spacingAndGlyphs">120</text>
<text x="286.77" y="759.40" font-size="10.00" fill="#111" textLength="16.68" lengthAdjust="spacingAndGlyphs">160</text>
<text x="200.33" y="776.30" font-size="12.50" fill="#222" textLength="48.22" lengthAdjust="spacingAndGlyphs" font-family="'Liberation Serif',serif">-Q(l/min)</text>
<text x="89.08" y="698.50" font-size="12.40" fill="#222" textLength="52.99" lengthAdjust="spacingAndGlyphs" transform="rotate(-90 89.70 698.50)">-ΔP(bar)</text>
<text x="496.29" y="123.90" font-size="7.20" fill="#0b0b2c" textLength="24.76" lengthAdjust="spacingAndGlyphs" font-weight="bold">8A CAV</text>
<text x="452.74" y="191.20" font-size="16.40" fill="#222">2</text>
<text x="656.72" y="190.90" font-size="16.40" fill="#222">1</text>
</g>
</svg>
<span class="c" style="left:644.0px;top:6.6px;font-size:24.0px;width:24.0px">洩</span>
<span class="c" style="left:667.4px;top:6.6px;font-size:24.0px;width:24.0px">壓</span>
<span class="c" style="left:689.1px;top:6.6px;font-size:24.0px;width:24.0px">閥</span>
<span class="c" style="left:509.1px;top:33.0px;font-size:15.7px;width:143.5px">平衡活塞調節元件帶</span>
<span class="c" style="left:677.6px;top:33.0px;font-size:15.7px;width:31.4px">插孔</span>
<span class="c" style="left:54.9px;top:55.8px;font-size:17.2px;width:67.2px">訂購編號</span>
<span class="c" style="left:46.2px;top:178.2px;font-size:15.6px;width:47.1px">六角邊</span>
<span class="c" style="left:259.5px;top:156.6px;font-size:12.8px;width:25.5px">插孔</span>
<span class="c" style="left:298.1px;top:256.6px;font-size:13.1px;width:52.4px">定位肩部</span>
<span class="c" style="left:87.0px;top:380.6px;font-size:15.5px;width:30.8px">出油</span>
<span class="c" style="left:180.5px;top:454.6px;font-size:15.5px;width:30.8px">進油</span>
<span class="c" style="left:21.8px;top:565.9px;font-size:16.7px;width:67.0px">尺寸單位</span>
<span class="c" style="left:532.7px;top:292.9px;font-size:16.2px;width:65.0px">技術參數</span>
<span class="c" style="left:414.5px;top:323.8px;font-size:16.1px;width:64.4px">額定壓力</span>
<span class="c" style="left:414.5px;top:355.9px;font-size:16.1px;width:64.4px">額定流量</span>
<span class="c" style="left:412.8px;top:388.1px;font-size:16.1px;width:48.3px">成型孔</span>
<span class="c" style="left:415.2px;top:420.4px;font-size:16.1px;width:64.4px">安裝扭矩</span>
<span class="c" style="left:416.6px;top:452.6px;font-size:16.1px;width:32.2px">重量</span>
<span class="c" style="left:411.7px;top:480.1px;font-size:14.2px;width:28.5px">油口</span>
<span class="c" style="left:446.6px;top:480.1px;font-size:14.2px;width:71.2px">可承受全壓</span>
<span class="c" style="left:524.3px;top:480.1px;font-size:14.2px;width:171.0px">若使用於交叉洩壓閥的迴路</span>
<span class="c" style="left:411.7px;top:494.4px;font-size:14.2px;width:130.0px">請考慮滑軸的內漏量</span>
<span class="c" style="left:534.4px;top:600.1px;font-size:16.3px;width:98.4px">結構設計選項</span>
<span class="c" style="left:409.5px;top:661.1px;font-size:14.1px;width:56.4px">響應時間</span>
<span class="c" style="left:409.5px;top:677.4px;font-size:14.1px;width:70.5px">最大內漏量</span>
<span class="c" style="left:180.9px;top:809.6px;font-size:16.3px;width:98.4px">控制彈簧選項</span>
<span class="c" style="left:187.4px;top:842.4px;font-size:14.1px;width:85.2px">最低控制壓力</span>
<span class="c" style="left:70.3px;top:938.8px;font-size:11.2px;width:155.0px">彈簧適合使用在高壓降的應用</span>
<span class="c" style="left:55.5px;top:951.9px;font-size:11.2px;width:71.5px">若有任何問題</span>
<span class="c" style="left:129.7px;top:951.9px;font-size:11.2px;width:131.1px">請與本公司銷售部門聯繫</span>
<span class="c" style="left:165.9px;top:599.9px;font-size:12.6px;width:25.2px">壓力</span>
<span class="c" style="left:198.3px;top:599.9px;font-size:12.6px;width:50.4px">流量曲線</span>
<span class="c" style="left:174.5px;top:766.8px;font-size:12.5px;width:25.0px">流量</span>
<span class="c" style="left:-0.5px;top:-11.3px;font-size:11.4px;width:22.7px">壓降</span>
</div></body></html>
